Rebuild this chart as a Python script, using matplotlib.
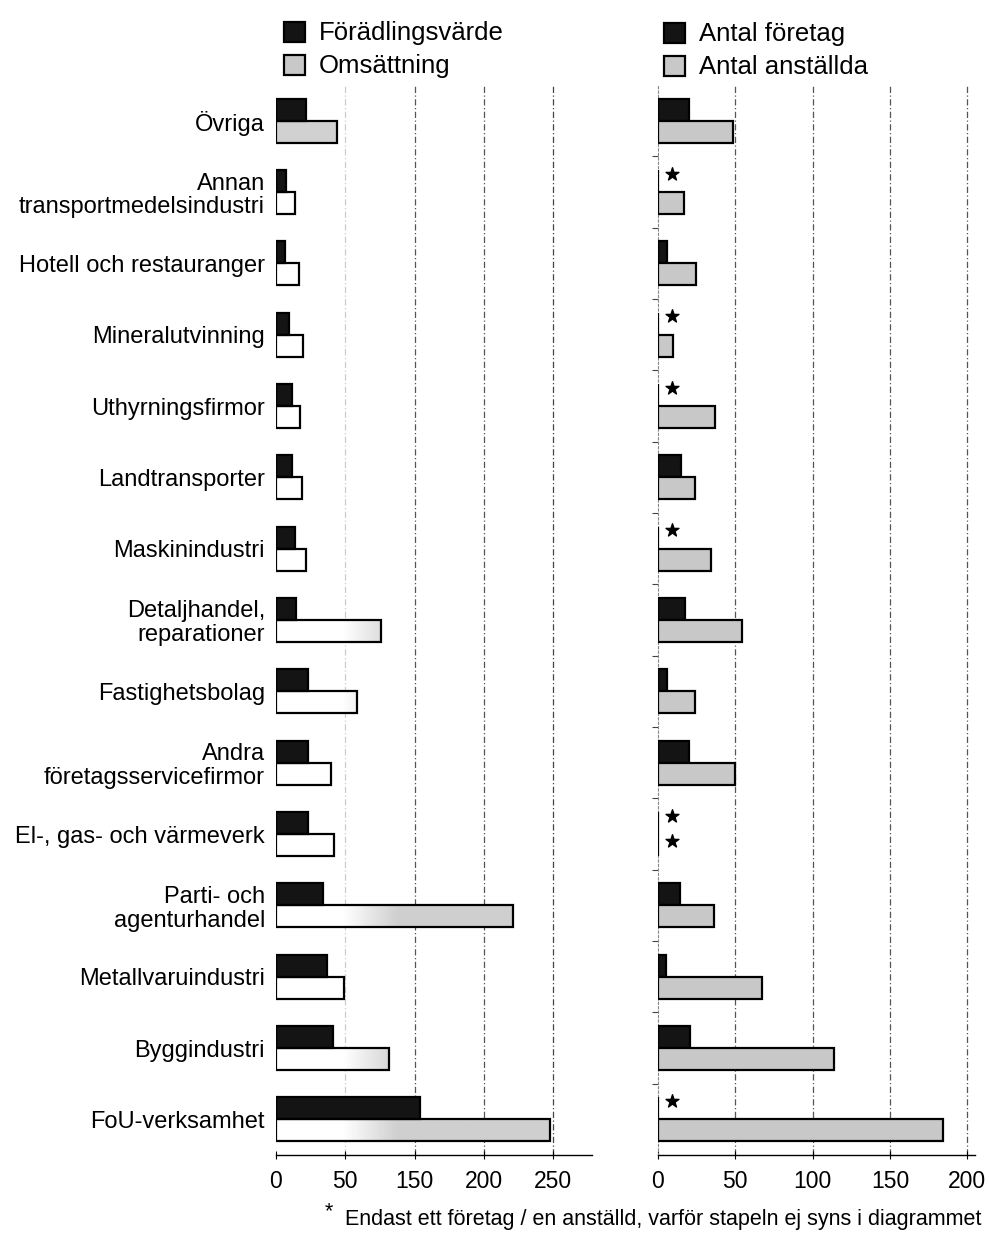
import matplotlib
matplotlib.use("Agg")
import matplotlib.pyplot as plt
from matplotlib.patches import Rectangle
import numpy as np

plt.rcParams['font.family'] = ['Liberation Sans', 'DejaVu Sans']

categories = ["Övriga", "Annan\ntransportmedelsindustri", "Hotell och restauranger",
              "Mineralutvinning", "Uthyrningsfirmor", "Landtransporter", "Maskinindustri",
              "Detaljhandel,\nreparationer", "Fastighetsbolag", "Andra\nföretagsservicefirmor",
              "El-, gas- och värmeverk", "Parti- och\nagenturhandel", "Metallvaruindustri",
              "Byggindustri", "FoU-verksamhet"]

foradlingsvarde = [27, 9, 8, 12, 14, 14, 17, 18, 29, 29, 29, 42, 46, 51, 130]
omsattning      = [55, 17, 21, 24, 22, 23, 27, 95, 73, 50, 52, 214, 61, 102, 247]

# value 1 = only one company / employee (shown with a star)
antal_foretag   = [20, 1, 6, 1, 1, 15, 1, 17.5, 6, 20, 1, 14, 5, 21, 1]
antal_anstallda = [48.5, 17, 24.5, 10, 37, 24, 34, 54, 24, 50, 1, 36, 67, 114, 184]

left_ticks = [0, 62.5, 125, 187.5, 250]
left_ticklabels = ["0", "50", "150", "200", "250"]
right_ticks = [0, 50, 100, 150, 200]
right_ticklabels = ["0", "50", "100", "150", "200"]

legend_left = ["Förädlingsvärde", "Omsättning"]
legend_right = ["Antal företag", "Antal anställda"]
footnote = "Endast ett företag / en anställd, varför stapeln ej syns i diagrammet"

W, H = 989, 1240
fig = plt.figure(figsize=(W / 100, H / 100), dpi=100)

top = 1 - 85 / H
bot = 1 - 1155 / H
axL = fig.add_axes([276 / W, bot, 316 / W, top - bot])
axR = fig.add_axes([658 / W, bot, 317 / W, top - bot])

DARK = '#141414'
GRAY = '#c8c8c8'
y = np.arange(len(categories))
h = 0.31
off = 0.155

def grid(ax, xs, colors):
    for xv, c in zip(xs, colors):
        ax.axvline(xv, color=c, lw=0.9, ls=(0, (5, 2, 1, 2)), zorder=0)

# ---------- left panel ----------
grid(axL, [62.5, 125, 187.5, 250], ['#cccccc', '#555555', '#555555', '#444444'])
axL.barh(y - off, foradlingsvarde, height=h, color=DARK, edgecolor='black', lw=1.6, zorder=3)
for i, v in enumerate(omsattning):
    xs = np.linspace(0, v, 200)
    if i == 0:
        g = np.full_like(xs, 0.82)
    else:
        g = 1 - 0.19 * np.clip((xs - 60) / 50, 0, 1)
    axL.imshow(g[None, :], extent=[0, v, y[i] + off + h / 2, y[i] + off - h / 2],
               cmap='gray', vmin=0, vmax=1, aspect='auto', zorder=2, interpolation='bilinear')
axL.barh(y + off, omsattning, height=h, facecolor='none', edgecolor='black', lw=1.6, zorder=4)
axL.set_xlim(0, 285)
axL.set_ylim(14.5, -0.5)
axL.set_xticks(left_ticks)
axL.set_xticklabels(left_ticklabels, fontsize=16.5)
axL.set_yticks(y)
axL.set_yticklabels(categories, fontsize=17, linespacing=1.1)
axL.tick_params(axis='y', length=0, pad=8)
axL.tick_params(axis='x', direction='inout', length=6, width=0.8, pad=8)
for s in ['top', 'right', 'left']:
    axL.spines[s].set_visible(False)
axL.spines['bottom'].set_linewidth(1.0)

# ---------- right panel ----------
grid(axR, [50, 100, 150, 200], ['#555555'] * 4)
rf = [v if v > 1 else 0 for v in antal_foretag]
ra = [v if v > 1 else 0 for v in antal_anstallda]
axR.barh(y - off, rf, height=h, color=DARK, edgecolor='black', lw=1.6, zorder=3)
axR.barh(y + off, ra, height=h, color=GRAY, edgecolor='black', lw=1.6, zorder=4)
sx, sy = [], []
for i in range(len(categories)):
    if antal_foretag[i] <= 1:
        sx.append(9); sy.append(y[i] - off - 0.1)
    if antal_anstallda[i] <= 1:
        sx.append(9); sy.append(y[i] + off - 0.05)
axR.scatter(sx, sy, marker='*', s=95, color='black', zorder=5)
axR.set_xlim(0, 205)
axR.set_ylim(14.5, -0.5)
axR.set_xticks(right_ticks)
axR.set_xticklabels(right_ticklabels, fontsize=16.5)
axR.set_yticks(y[:-1] + 0.5)
axR.set_yticklabels([])
axR.tick_params(axis='y', length=4, width=0.8, color='#444444')
axR.tick_params(axis='x', direction='inout', length=6, width=0.8, pad=8)
for s in ['top', 'right']:
    axR.spines[s].set_visible(False)
axR.spines['left'].set_linestyle((0, (2, 2)))
axR.spines['left'].set_color('#888888')
axR.spines['left'].set_linewidth(0.8)
axR.spines['bottom'].set_linewidth(1.0)

# ---------- legends ----------
def legend_entry(x0, yc, color, label):
    fig.patches.append(Rectangle((x0 / W, 1 - (yc + 10) / H), 21 / W, 20 / H,
                                 transform=fig.transFigure, facecolor=color,
                                 edgecolor='black', lw=1.6))
    fig.text((x0 + 35) / W, 1 - (yc + 1) / H, label, fontsize=18.5, va='center', ha='left')

legend_entry(284, 32, DARK, legend_left[0])
legend_entry(284, 65, GRAY, legend_left[1])
legend_entry(664, 33, DARK, legend_right[0])
legend_entry(664, 66, GRAY, legend_right[1])

fig.text(325 / W, 1 - 1212 / H, "*", fontsize=15.5, va='center', ha='left')
fig.text(345 / W, 1 - 1219 / H, footnote, fontsize=15.5, va='center', ha='left')

fig.savefig("out.png", dpi=100, facecolor='white')
